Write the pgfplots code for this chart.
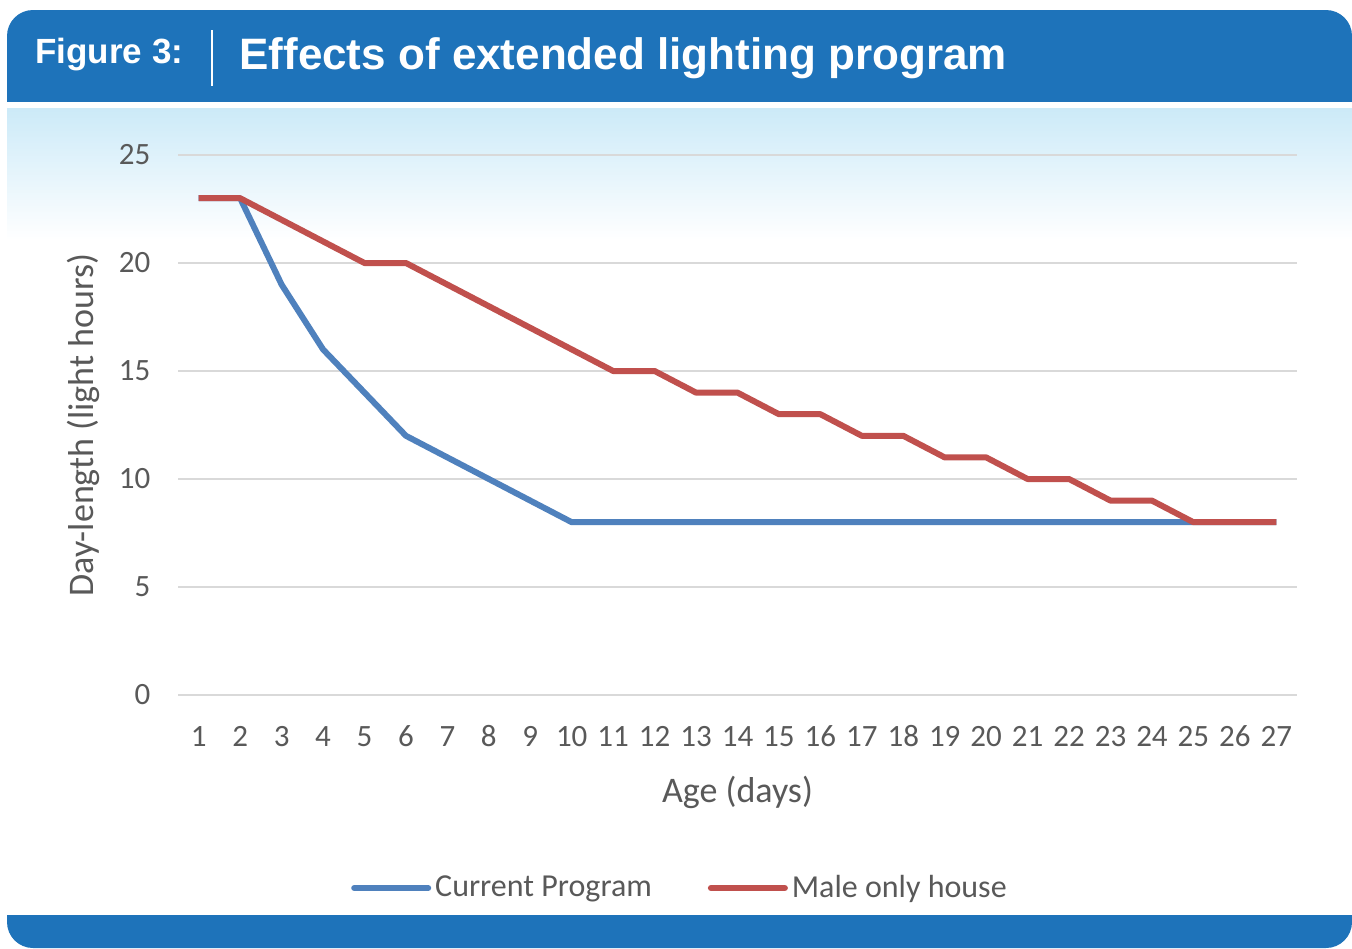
\documentclass[border=0pt]{standalone}
\usepackage{fontspec}
\setmainfont{Carlito}
\newfontfamily\titlefont{Liberation Sans}
\usepackage{pgfplots}
\pgfplotsset{compat=1.18}
\definecolor{hdr}{HTML}{1E73BA}
\definecolor{grad}{HTML}{CCEAF8}
\definecolor{cblue}{HTML}{4F81BD}
\definecolor{cred}{HTML}{C0504D}
\definecolor{txt}{HTML}{595959}
\definecolor{gridc}{HTML}{D9D9D9}
\begin{document}
\begin{tikzpicture}
\begin{scope}[x=0.5pt,y=-0.5pt]
\path[use as bounding box] (0,0) rectangle (1352,948);
\begin{scope}
\clip (0,0) rectangle (1352,948);
\fill[white] (0,0) rectangle (1352,948);
\fill[hdr,rounded corners=13pt] (7,10) rectangle (1352,140);
\fill[white] (7,102) rectangle (1352,108);
\shade[top color=grad,bottom color=white] (7,108) rectangle (1352,240);
\fill[white] (7,240) rectangle (1352,900);
\fill[hdr,rounded corners=13pt] (7,880) rectangle (1352,948);
\fill[white] (7,860) rectangle (1352,915);
\draw[white,line width=1pt] (212,30) -- (212,86);
\node[anchor=west,text=white,inner sep=0pt,font=\titlefont\bfseries\fontsize{17.5}{20}\selectfont] at (35,55) {Figure 3:};
\node[anchor=west,text=white,inner sep=0pt,font=\titlefont\bfseries\fontsize{22}{26}\selectfont] at (239,58) {Effects of extended lighting program};
\end{scope}
\end{scope}
\begin{axis}[
  at={(89pt,-347.5pt)}, anchor=south west,
  scale only axis, width=559.5pt, height=270pt,
  xmin=0.5, xmax=27.5, ymin=0, ymax=25,
  xtick={1,...,27}, ytick={0,5,...,25},
  ymajorgrids, grid style={gridc,line width=1pt},
  axis line style={draw=none}, tick style={draw=none},
  /pgf/number format/assume math mode=true,
  ticklabel style={text=txt,font=\fontsize{15.5}{18}\selectfont},
  xticklabel style={anchor=north,text height=10.5pt,text depth=0pt,yshift=-11.5pt},
  yticklabel style={xshift=-10.3pt},
  xlabel={Age (days)}, ylabel={Day-length (light hours)},
  label style={text=txt,font=\fontsize{18}{21}\selectfont},
  xlabel style={at={(axis description cs:0.5,-0.1796)},anchor=center},
  ylabel style={at={(axis description cs:-0.0849,0.5)},anchor=center},
  legend style={at={(axis description cs:0.4495,-0.3574)},anchor=center,draw=none,fill=none,
    legend columns=2,font=\fontsize{16}{19}\selectfont,text=txt,
    /tikz/every even column/.append style={column sep=26pt}},
  legend image code/.code={\draw[#1,line cap=round] (0pt,0pt) -- (37pt,0pt);},
  every axis plot/.append style={line width=3pt,line join=round},
]
\addplot[cblue] coordinates {
(1,23) (2,23) (3,19) (4,16) (5,14) (6,12) (7,11) (8,10) (9,9) (10,8)
(11,8) (12,8) (13,8) (14,8) (15,8) (16,8) (17,8) (18,8) (19,8) (20,8)
(21,8) (22,8) (23,8) (24,8) (25,8) (26,8) (27,8)};
\addlegendentry{Current Program}
\addplot[cred] coordinates {
(1,23) (2,23) (3,22) (4,21) (5,20) (6,20) (7,19) (8,18) (9,17) (10,16)
(11,15) (12,15) (13,14) (14,14) (15,13) (16,13) (17,12) (18,12) (19,11) (20,11)
(21,10) (22,10) (23,9) (24,9) (25,8) (26,8) (27,8)};
\addlegendentry{Male only house}
\end{axis}
\end{tikzpicture}
\end{document}
